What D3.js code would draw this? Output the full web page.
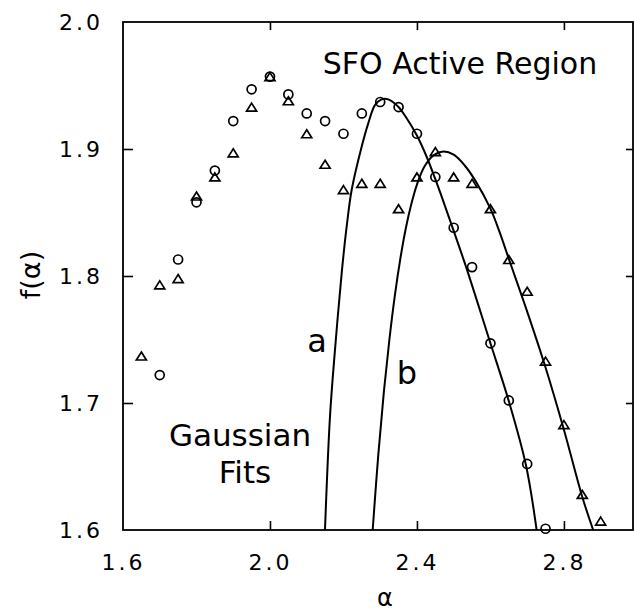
<!DOCTYPE html>
<html>
<head>
<meta charset="utf-8">
<script src="https://cdn.jsdelivr.net/npm/d3@7/dist/d3.min.js"></script>
<style>
  html, body { margin: 0; padding: 0; background: #fff; }
  svg { display: block; }
  text { font-family: "DejaVu Sans", sans-serif; fill: #000; }
</style>
</head>
<body>
<svg id="chart" width="635" height="615"></svg>
<script>
// ---- data ----
const circleAlpha = [1.70,1.75,1.80,1.85,1.90,1.95,2.00,2.05,2.10,2.15,2.20,2.25,2.30,2.35,2.40,2.45,2.50,2.55,2.60,2.65,2.70,2.75];
const circleF     = [1.722,1.813,1.858,1.883,1.922,1.947,1.957,1.943,1.928,1.922,1.912,1.928,1.937,1.933,1.912,1.878,1.838,1.807,1.747,1.702,1.652,1.601];

const triAlpha = [1.65,1.70,1.75,1.80,1.85,1.90,1.95,2.00,2.05,2.10,2.15,2.20,2.25,2.30,2.35,2.40,2.45,2.50,2.55,2.60,2.65,2.70,2.75,2.80,2.85,2.90];
const triF     = [1.737,1.793,1.798,1.863,1.878,1.897,1.933,1.957,1.938,1.912,1.888,1.868,1.873,1.873,1.853,1.878,1.898,1.878,1.873,1.853,1.813,1.788,1.733,1.683,1.628,1.607];

// Gaussian fit "a" (through circles) and "b" (through triangles)
const fitAAlpha = [2.1497,2.1633,2.1769,2.1951,2.2087,2.2223,2.2495,2.2675,2.2857,2.3039,2.3219,2.3491,2.3720,2.3992,2.4264,2.4490,2.4716,2.5000,2.5350,2.6000,2.6500,2.6966,2.7257];
const fitAF     = [1.600,1.6892,1.7417,1.8021,1.8388,1.8677,1.9018,1.9202,1.9346,1.9391,1.9391,1.9333,1.9242,1.9110,1.8939,1.8770,1.8590,1.8355,1.8060,1.7470,1.7015,1.6512,1.600];

const fitBAlpha = [2.2795,2.2950,2.3100,2.3250,2.3400,2.3550,2.3700,2.3850,2.4000,2.4200,2.4450,2.4716,2.5000,2.5300,2.5600,2.6000,2.6250,2.6500,2.7000,2.7500,2.8000,2.8500,2.8797];
const fitBF     = [1.600,1.6600,1.7090,1.7500,1.7850,1.8140,1.8380,1.8570,1.8720,1.8860,1.8950,1.8980,1.8955,1.8870,1.8745,1.8530,1.8345,1.8135,1.7720,1.7280,1.6790,1.6260,1.600];

const xTickLabels = [1.6, 2.0, 2.4, 2.8];
const xTickMarks  = [2.0, 2.4, 2.8];
const yTickLabels = [1.6, 1.7, 1.8, 1.9, 2.0];
const yTickMarks  = [1.7, 1.8, 1.9];

// ---- layout ----
const L = 123, R = 633, T = 22, B = 530;
const svg = d3.select("#chart");
const x = d3.scaleLinear().domain([1.6, 2.988]).range([L, R]);
const y = d3.scaleLinear().domain([1.6, 2.0]).range([B, T]);

svg.append("defs").append("clipPath").attr("id", "plotclip")
  .append("rect").attr("x", L).attr("y", T).attr("width", R - L).attr("height", B - T);

// frame
svg.append("rect").attr("x", L).attr("y", T).attr("width", R - L).attr("height", B - T)
  .attr("fill", "none").attr("stroke", "#000").attr("stroke-width", 1.8);

// inward tick marks
function styleTicks(g) {
  g.select(".domain").remove();
  g.selectAll(".tick line").attr("stroke", "#000").attr("stroke-width", 1.6);
}
svg.append("g").attr("transform", `translate(0,${B})`)
  .call(d3.axisBottom(x).tickValues(xTickMarks).tickSize(-9).tickFormat(""))
  .call(styleTicks);
svg.append("g").attr("transform", `translate(0,${T})`)
  .call(d3.axisTop(x).tickValues(xTickMarks).tickSize(-8).tickFormat(""))
  .call(styleTicks);
svg.append("g").attr("transform", `translate(${L},0)`)
  .call(d3.axisLeft(y).tickValues(yTickMarks).tickSize(-10).tickFormat(""))
  .call(styleTicks);
svg.append("g").attr("transform", `translate(${R},0)`)
  .call(d3.axisRight(y).tickValues(yTickMarks).tickSize(-7).tickFormat(""))
  .call(styleTicks);

// tick labels
const fmt = d3.format(".1f");
const xLab = svg.append("g").attr("transform", `translate(0,${B})`)
  .call(d3.axisBottom(x).tickValues(xTickLabels).tickSize(0).tickPadding(24).tickFormat(fmt));
xLab.select(".domain").remove();
xLab.selectAll("text").attr("font-size", 22).attr("letter-spacing", "3px")
  .attr("font-family", "DejaVu Sans, sans-serif").attr("fill", "#000");

const yLab = svg.append("g").attr("transform", `translate(${L},0)`)
  .call(d3.axisLeft(y).tickValues(yTickLabels).tickSize(0).tickPadding(20).tickFormat(fmt));
yLab.select(".domain").remove();
yLab.selectAll("text").attr("font-size", 22).attr("letter-spacing", "3px")
  .attr("font-family", "DejaVu Sans, sans-serif").attr("fill", "#000");

// axis titles
svg.append("text").attr("transform", "translate(40,275) rotate(-90)")
  .attr("text-anchor", "middle").attr("font-size", 27).text("f(α)");
svg.append("text").attr("x", 385).attr("y", 606)
  .attr("text-anchor", "middle").attr("font-size", 24).text("α");

// fits
const line = d3.line().x(d => x(d[0])).y(d => y(d[1])).curve(d3.curveCatmullRom.alpha(0.5));
const plot = svg.append("g").attr("clip-path", "url(#plotclip)");
plot.append("path").datum(d3.zip(fitAAlpha, fitAF))
  .attr("d", line).attr("fill", "none").attr("stroke", "#000").attr("stroke-width", 2);
plot.append("path").datum(d3.zip(fitBAlpha, fitBF))
  .attr("d", line).attr("fill", "none").attr("stroke", "#000").attr("stroke-width", 2);

// markers
svg.append("g").selectAll("circle").data(d3.zip(circleAlpha, circleF)).join("circle")
  .attr("cx", d => x(d[0])).attr("cy", d => y(d[1])).attr("r", 4.5)
  .attr("fill", "none").attr("stroke", "#000").attr("stroke-width", 1.7);

const tw = 10, th = 8;
svg.append("g").selectAll("path").data(d3.zip(triAlpha, triF)).join("path")
  .attr("transform", d => `translate(${x(d[0])},${y(d[1])})`)
  .attr("d", `M0,${-th/2}L${tw/2},${th/2}L${-tw/2},${th/2}Z`)
  .attr("fill", "none").attr("stroke", "#000").attr("stroke-width", 1.7).attr("stroke-linejoin", "miter");

// annotations
svg.append("text").attr("x", 460).attr("y", 74).attr("text-anchor", "middle")
  .attr("font-size", 30).text("SFO Active Region");
svg.append("text").attr("x", 240).attr("y", 446).attr("text-anchor", "middle")
  .attr("font-size", 31).text("Gaussian");
svg.append("text").attr("x", 245).attr("y", 483).attr("text-anchor", "middle")
  .attr("font-size", 31).text("Fits");
svg.append("text").attr("x", 317).attr("y", 352).attr("text-anchor", "middle")
  .attr("font-size", 32).text("a");
svg.append("text").attr("x", 407).attr("y", 384).attr("text-anchor", "middle")
  .attr("font-size", 32).text("b");
</script>
</body>
</html>
